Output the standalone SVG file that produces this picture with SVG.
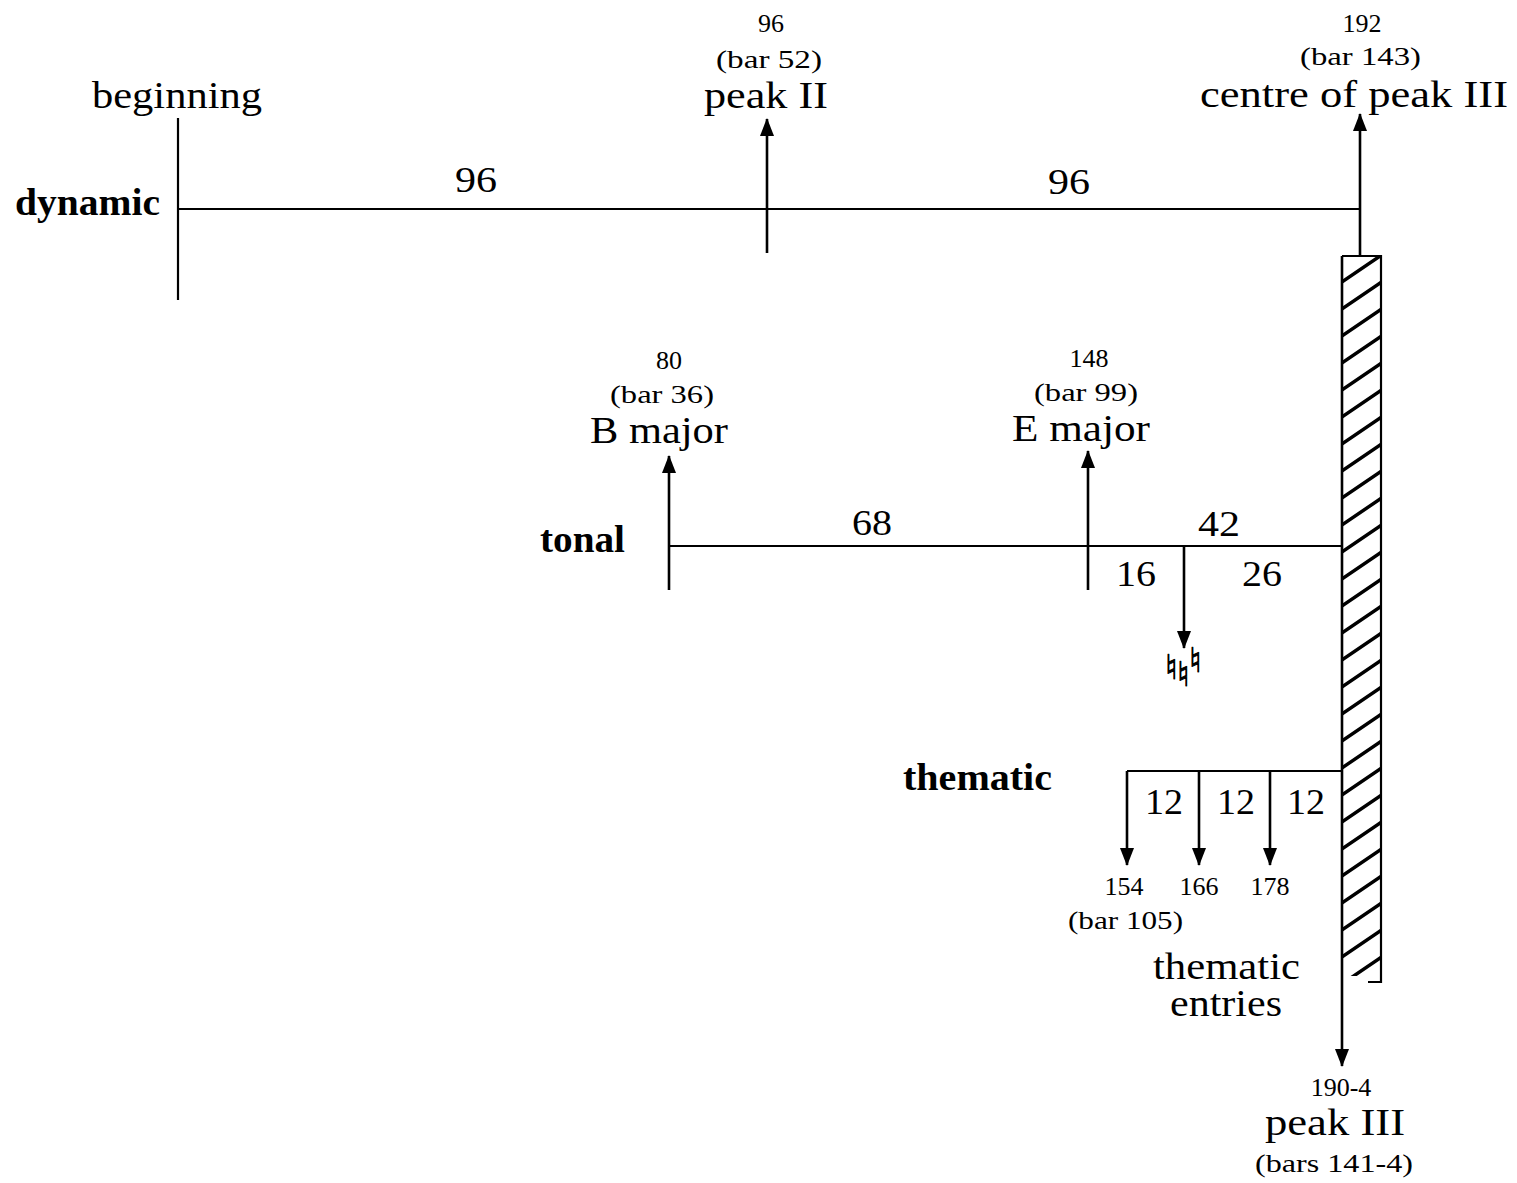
<svg xmlns="http://www.w3.org/2000/svg" width="1517" height="1183" viewBox="0 0 1517 1183">
<style>
text{font-family:"Liberation Serif","Times New Roman",serif;fill:#000}
.s{font-size:26px}
.b{font-size:37px}
.n{font-size:36px}
.h{font-size:38px;font-weight:bold}
.ln{stroke:#000;stroke-width:2.2;fill:none}
.ar{stroke:#000;stroke-width:2.6;fill:none;marker-end:url(#ah)}
.nat{font-family:"DejaVu Sans","DejaVu Serif",sans-serif;font-size:34px;fill:#000;stroke:#000;stroke-width:0.9}
</style>
<defs>
<marker id="ah" viewBox="0 0 18 14" refX="17" refY="7" markerWidth="18" markerHeight="14" markerUnits="userSpaceOnUse" orient="auto">
<path d="M0,0 L18,7 L0,14 z" fill="#000"/>
</marker>
<clipPath id="barclip"><rect x="1341" y="256" width="40" height="720"/></clipPath>
<pattern id="hatch" patternUnits="userSpaceOnUse" x="1341" y="256" width="40" height="27">
<path d="M-2,28 L42,-2 M-2,55 L42,25 M-2,1 L42,-29" stroke="#000" stroke-width="3.4"/>
</pattern>
</defs>
<rect width="1517" height="1183" fill="#fff"/>

<g id="connectors">
<line class="ln" x1="178" y1="209" x2="1360" y2="209"/>
<line class="ln" x1="178" y1="118" x2="178" y2="300"/>
<line class="ar" x1="767" y1="253" x2="767" y2="119"/>
<line class="ar" x1="1360" y1="256" x2="1360" y2="114"/>
<line class="ln" x1="669" y1="546" x2="1341" y2="546"/>
<line class="ar" x1="669" y1="590" x2="669" y2="456"/>
<line class="ar" x1="1088" y1="590" x2="1088" y2="451"/>
<line class="ar" x1="1184" y1="546" x2="1184" y2="648"/>
<line class="ln" x1="1127" y1="771" x2="1341" y2="771"/>
<line class="ar" x1="1127" y1="771" x2="1127" y2="865"/>
<line class="ar" x1="1199" y1="771" x2="1199" y2="865"/>
<line class="ar" x1="1270" y1="771" x2="1270" y2="865"/>
<line class="ar" x1="1342" y1="256" x2="1342" y2="1066"/>
</g>

<g id="hatched-bar">
<rect x="1341" y="256" width="40" height="720" fill="url(#hatch)" clip-path="url(#barclip)"/>
<path class="ln" d="M1342,256 L1381,256 L1381,982 L1368,982" stroke-width="2.6"/>
</g>

<g id="dynamic">
<text class="h" x="15" y="215" textLength="145" lengthAdjust="spacingAndGlyphs">dynamic</text>
<text class="b" x="92" y="108" textLength="170" lengthAdjust="spacingAndGlyphs">beginning</text>
<text class="n" x="455" y="192" textLength="42" lengthAdjust="spacingAndGlyphs">96</text>
<text class="n" x="1048" y="194" textLength="42" lengthAdjust="spacingAndGlyphs">96</text>
</g>

<g id="peak-II">
<text class="s" x="771" y="32" text-anchor="middle">96</text>
<text class="s" x="716" y="68" textLength="106" lengthAdjust="spacingAndGlyphs">(bar 52)</text>
<text class="b" x="704" y="108" textLength="124" lengthAdjust="spacingAndGlyphs">peak II</text>
</g>

<g id="centre-peak-III">
<text class="s" x="1362" y="32" text-anchor="middle">192</text>
<text class="s" x="1300" y="65" textLength="121" lengthAdjust="spacingAndGlyphs">(bar 143)</text>
<text class="b" x="1200" y="107" textLength="308" lengthAdjust="spacingAndGlyphs">centre of peak III</text>
</g>

<g id="tonal">
<text class="h" x="540" y="552" textLength="85" lengthAdjust="spacingAndGlyphs">tonal</text>
<text class="n" x="852" y="535" textLength="40" lengthAdjust="spacingAndGlyphs">68</text>
<text class="n" x="1198" y="536" textLength="42" lengthAdjust="spacingAndGlyphs">42</text>
<text class="n" x="1116" y="586" textLength="40" lengthAdjust="spacingAndGlyphs">16</text>
<text class="n" x="1242" y="586" textLength="40" lengthAdjust="spacingAndGlyphs">26</text>
</g>

<g id="B-major">
<text class="s" x="669" y="369" text-anchor="middle">80</text>
<text class="s" x="610" y="403" textLength="104" lengthAdjust="spacingAndGlyphs">(bar 36)</text>
<text class="b" x="590" y="443" textLength="138" lengthAdjust="spacingAndGlyphs">B major</text>
</g>

<g id="E-major">
<text class="s" x="1089" y="367" text-anchor="middle">148</text>
<text class="s" x="1034" y="401" textLength="104" lengthAdjust="spacingAndGlyphs">(bar 99)</text>
<text class="b" x="1012" y="441" textLength="138" lengthAdjust="spacingAndGlyphs">E major</text>
</g>

<g id="naturals">
<text class="nat" x="1165" y="679">♮</text>
<text class="nat" x="1177" y="686">♮</text>
<text class="nat" x="1189" y="672">♮</text>
</g>

<g id="thematic">
<text class="h" x="903" y="790" textLength="149" lengthAdjust="spacingAndGlyphs">thematic</text>
<text class="n" x="1145" y="814" textLength="38" lengthAdjust="spacingAndGlyphs">12</text>
<text class="n" x="1217" y="814" textLength="38" lengthAdjust="spacingAndGlyphs">12</text>
<text class="n" x="1287" y="814" textLength="38" lengthAdjust="spacingAndGlyphs">12</text>
<text class="s" x="1124" y="895" text-anchor="middle">154</text>
<text class="s" x="1199" y="895" text-anchor="middle">166</text>
<text class="s" x="1270" y="895" text-anchor="middle">178</text>
<text class="s" x="1068" y="929" textLength="115" lengthAdjust="spacingAndGlyphs">(bar 105)</text>
<text class="b" x="1153" y="979" textLength="147" lengthAdjust="spacingAndGlyphs">thematic</text>
<text class="b" x="1170" y="1016" textLength="112" lengthAdjust="spacingAndGlyphs">entries</text>
</g>

<g id="peak-III">
<text class="s" x="1341" y="1096" text-anchor="middle">190-4</text>
<text class="b" x="1265" y="1135" textLength="140" lengthAdjust="spacingAndGlyphs">peak III</text>
<text class="s" x="1255" y="1172" textLength="158" lengthAdjust="spacingAndGlyphs">(bars 141-4)</text>
</g>
</svg>
